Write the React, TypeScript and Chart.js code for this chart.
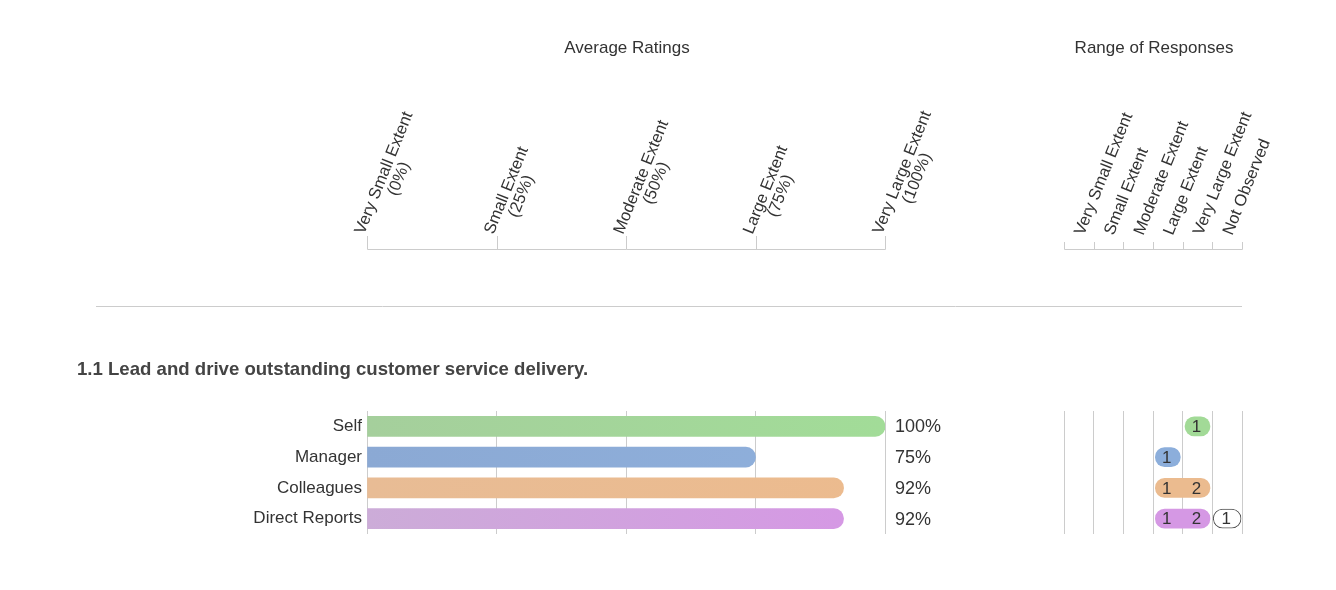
import React, { useEffect, useRef } from "react";
import { Chart, registerables } from "chart.js";

Chart.register(...registerables);

// ---------- data ----------
const groups = ["Self", "Manager", "Colleagues", "Direct Reports"];
const averageRatings = [100, 75, 92, 92];
const ratingTickValues = [0, 25, 50, 75, 100];
const ratingTickLabels = [
  ["Very Small Extent", "(0%)"],
  ["Small Extent", "(25%)"],
  ["Moderate Extent", "(50%)"],
  ["Large Extent", "(75%)"],
  ["Very Large Extent", "(100%)"],
];
const responseCategories = [
  "Very Small Extent",
  "Small Extent",
  "Moderate Extent",
  "Large Extent",
  "Very Large Extent",
  "Not Observed",
];
const selfResponses = [0, 0, 0, 0, 1, 0];
const managerResponses = [0, 0, 0, 1, 0, 0];
const colleaguesResponses = [0, 0, 0, 1, 2, 0];
const directReportsResponses = [0, 0, 0, 1, 2, 1];
const responseCounts = [selfResponses, managerResponses, colleaguesResponses, directReportsResponses];

const leftTitle = "Average Ratings";
const rightTitle = "Range of Responses";
const sectionTitle = "1.1 Lead and drive outstanding customer service delivery.";

// ---------- style ----------
const W = 1336;
const H = 590;
const FONT = 'Arial, "Liberation Sans", sans-serif';
const TEXT = "#333333";
const GRID = "#cccccc";
const barStart = ["#a5cf9c", "#8ba9d4", "#e8bc95", "#ccacd8"];
const barEnd = ["#a2dc98", "#8fb0dc", "#ecbb8e", "#d697e5"];
const pillColors = ["#a2da97", "#8caedb", "#ebbb8f", "#d598e4"];

const PLOT_TOP = 411;
const PLOT_BOTTOM = 534;
const LEFT_X0 = 367;
const LEFT_X1 = 885;
const RIGHT_X0 = 1064;
const RIGHT_X1 = 1242;
const Y_AXIS_W = 160;
const AXIS_Y = 249;
const ANGLE = (68 * Math.PI) / 180;
const INSET = 0.08;

function drawRotated(ctx: CanvasRenderingContext2D, x: number, y: number, lines: string[], lh: number) {
  ctx.save();
  ctx.translate(x, y);
  ctx.rotate(-ANGLE);
  ctx.font = `16.5px ${FONT}`;
  ctx.fillStyle = TEXT;
  ctx.textBaseline = "alphabetic";
  const w1 = ctx.measureText(lines[0]).width;
  ctx.textAlign = "left";
  ctx.fillText(lines[0], 0, 0);
  for (let k = 1; k < lines.length; k++) {
    ctx.textAlign = "center";
    ctx.fillText(lines[k], w1 / 2, k * lh);
  }
  ctx.restore();
}

const leftDecor = {
  id: "leftDecor",
  afterDraw(chart: any) {
    const ctx: CanvasRenderingContext2D = chart.ctx;
    const xs = chart.scales.x;
    const ys = chart.scales.y;
    const x0 = xs.getPixelForValue(ratingTickValues[0]);
    const x1 = xs.getPixelForValue(ratingTickValues[ratingTickValues.length - 1]);
    ctx.save();
    // title
    ctx.font = `17px ${FONT}`;
    ctx.fillStyle = TEXT;
    ctx.textAlign = "center";
    ctx.textBaseline = "middle";
    ctx.fillText(leftTitle, (x0 + x1) / 2 + 1, 48);
    // top axis
    ctx.strokeStyle = GRID;
    ctx.lineWidth = 1;
    ctx.beginPath();
    ctx.moveTo(Math.round(x0) + 0.5, AXIS_Y + 0.5);
    ctx.lineTo(Math.round(x1) + 0.5, AXIS_Y + 0.5);
    ratingTickValues.forEach((v) => {
      const px = Math.round(xs.getPixelForValue(v)) + 0.5;
      ctx.moveTo(px, AXIS_Y + 0.5);
      ctx.lineTo(px, AXIS_Y - 13);
    });
    ctx.stroke();
    ratingTickValues.forEach((v, i) => {
      drawRotated(ctx, xs.getPixelForValue(v) - 3, 235, ratingTickLabels[i], 16);
    });
    // separator
    ctx.beginPath();
    ctx.moveTo(96, 306.5);
    ctx.lineTo(RIGHT_X1, 306.5);
    ctx.stroke();
    // section title
    ctx.font = `bold 18.6px ${FONT}`;
    ctx.fillStyle = "#444444";
    ctx.textAlign = "left";
    ctx.textBaseline = "middle";
    ctx.fillText(sectionTitle, 77, 370);
    // percent labels
    ctx.font = `18px ${FONT}`;
    ctx.fillStyle = TEXT;
    averageRatings.forEach((v, i) => {
      ctx.fillText(`${v}%`, x1 + 10, ys.getPixelForValue(i) + 1);
    });
    ctx.restore();
  },
};

const rightDecor = {
  id: "rightDecor",
  afterDraw(chart: any) {
    const ctx: CanvasRenderingContext2D = chart.ctx;
    const xs = chart.scales.x;
    const ys = chart.scales.y;
    const x0 = xs.getPixelForValue(0);
    const x1 = xs.getPixelForValue(responseCategories.length);
    ctx.save();
    ctx.font = `17px ${FONT}`;
    ctx.fillStyle = TEXT;
    ctx.textAlign = "center";
    ctx.textBaseline = "middle";
    ctx.fillText(rightTitle, (x0 + x1) / 2 + 1, 48);
    ctx.strokeStyle = GRID;
    ctx.lineWidth = 1;
    ctx.beginPath();
    ctx.moveTo(Math.round(x0) + 0.5, AXIS_Y + 0.5);
    ctx.lineTo(Math.round(x1) + 0.5, AXIS_Y + 0.5);
    for (let i = 0; i <= responseCategories.length; i++) {
      const px = Math.round(xs.getPixelForValue(i)) + 0.5;
      ctx.moveTo(px, AXIS_Y + 0.5);
      ctx.lineTo(px, AXIS_Y - 7);
    }
    ctx.stroke();
    responseCategories.forEach((c, i) => {
      drawRotated(ctx, xs.getPixelForValue(i + 0.5) + 5, 236, [c], 16);
    });
    // counts
    ctx.font = `17px ${FONT}`;
    ctx.fillStyle = TEXT;
    ctx.textAlign = "center";
    ctx.textBaseline = "middle";
    responseCounts.forEach((counts, g) => {
      counts.forEach((n, i) => {
        if (n > 0) ctx.fillText(String(n), xs.getPixelForValue(i + 0.5) - 1, ys.getPixelForValue(g) + 1);
      });
    });
    ctx.restore();
  },
};

function gradientFor(ctx: any) {
  const chart = ctx.chart;
  const area = chart.chartArea;
  const i = ctx.dataIndex;
  if (!area || i === undefined) return barEnd[i ?? 0];
  const g = chart.ctx.createLinearGradient(area.left, 0, area.right, 0);
  g.addColorStop(0, barStart[i]);
  g.addColorStop(1, barEnd[i]);
  return g;
}

const ratingIdx = responseCategories.length - 1; // last is "Not Observed"
const pillRanges = responseCounts.map((counts) => {
  const idx = counts.slice(0, ratingIdx).map((n, i) => (n > 0 ? i : -1)).filter((i) => i >= 0);
  if (!idx.length) return null;
  return [Math.min(...idx) + INSET, Math.max(...idx) + 1 - INSET];
});
const notObservedRanges = responseCounts.map((counts) =>
  counts[ratingIdx] > 0 ? [ratingIdx + 0.03, ratingIdx + 1 - 0.03] : null
);

export default function App() {
  const leftRef = useRef<HTMLCanvasElement>(null);
  const rightRef = useRef<HTMLCanvasElement>(null);

  useEffect(() => {
    document.body.style.margin = "0";
    const left = new Chart(leftRef.current!, {
      type: "bar",
      data: {
        labels: groups,
        datasets: [
          {
            data: averageRatings,
            backgroundColor: gradientFor as any,
            borderRadius: 10,
            borderSkipped: "start",
            barThickness: 20,
          },
        ],
      },
      options: {
        responsive: false,
        animation: false,
        indexAxis: "y",
        layout: { padding: { left: LEFT_X0 - Y_AXIS_W, right: W - LEFT_X1, top: PLOT_TOP, bottom: H - PLOT_BOTTOM } },
        plugins: { legend: { display: false }, tooltip: { enabled: false } },
        scales: {
          x: {
            min: 0,
            max: 100,
            ticks: { display: false, stepSize: 25 },
            grid: { color: GRID, drawTicks: false },
            border: { display: false },
            afterFit: (s: any) => {
              s.height = 0;
            },
          },
          y: {
            ticks: { color: TEXT, font: { family: FONT, size: 17 }, padding: 5 },
            grid: { display: false, drawTicks: false },
            border: { display: false },
            afterFit: (s: any) => {
              s.width = Y_AXIS_W;
            },
          },
        },
      } as any,
      plugins: [leftDecor],
    });

    const right = new Chart(rightRef.current!, {
      type: "bar",
      data: {
        labels: groups,
        datasets: [
          {
            data: pillRanges as any,
            backgroundColor: pillColors,
            borderRadius: 20,
            borderSkipped: false,
            barThickness: 19,
            grouped: false,
          } as any,
          {
            data: notObservedRanges as any,
            backgroundColor: "#ffffff",
            borderColor: "#555555",
            borderWidth: 1,
            borderRadius: 20,
            borderSkipped: false,
            barThickness: 19,
            grouped: false,
          } as any,
        ],
      },
      options: {
        responsive: false,
        animation: false,
        indexAxis: "y",
        layout: { padding: { left: RIGHT_X0, right: W - RIGHT_X1, top: PLOT_TOP, bottom: H - PLOT_BOTTOM } },
        plugins: { legend: { display: false }, tooltip: { enabled: false } },
        scales: {
          x: {
            min: 0,
            max: responseCategories.length,
            ticks: { display: false, stepSize: 1 },
            grid: { color: GRID, drawTicks: false },
            border: { display: false },
            afterFit: (s: any) => {
              s.height = 0;
            },
          },
          y: {
            display: false,
          },
        },
      } as any,
      plugins: [rightDecor],
    });

    return () => {
      left.destroy();
      right.destroy();
    };
  }, []);

  return (
    <div style={{ position: "relative", width: W, height: H, background: "#fff" }}>
      <canvas ref={leftRef} width={W} height={H} style={{ position: "absolute", left: 0, top: 0 }} />
      <canvas ref={rightRef} width={W} height={H} style={{ position: "absolute", left: 0, top: 0 }} />
    </div>
  );
}
